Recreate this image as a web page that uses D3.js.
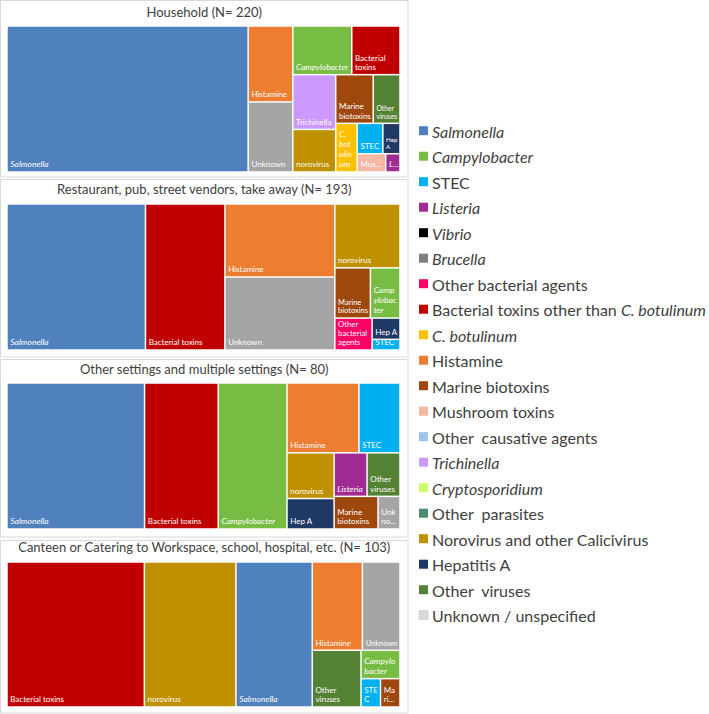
<!DOCTYPE html>
<html><head><meta charset="utf-8">
<script src="https://cdn.jsdelivr.net/npm/d3@7"></script>
<style>
body{margin:0;background:#fff}
svg{display:block}
text{font-family:Lato,"Open Sans",sans-serif}
</style>
</head><body>
<svg id="chart" width="709" height="714"></svg>
<script>
// ---------------- DATA ----------------
const panelTitles = [
  "Household (N= 220)",
  "Restaurant, pub, street vendors, take away  (N= 193)",
  "Other settings and multiple settings (N= 80)",
  "Canteen or Catering to Workspace, school, hospital, etc. (N= 103)"
];
const householdAgents = ["Salmonella","Histamine","Unknown","Campylobacter","Bacterial toxins","Trichinella","norovirus","Marine biotoxins","Other viruses","C. botulinum","STEC","Hep A","Mushroom toxins","Listeria"];
const householdCounts = [135,13,12,11,9,9,7,7,5,4,3,2,2,1];

const restaurantAgents = ["Salmonella","Bacterial toxins","Histamine","Unknown","norovirus","Marine biotoxins","Campylobacter","Other bacterial agents","Hep A","STEC"];
const restaurantCounts = [68,39,27,27,14,6,5,4,2,1];

const otherAgents = ["Salmonella","Bacterial toxins","Campylobacter","Histamine","STEC","norovirus","Hep A","Listeria","Other viruses","Marine biotoxins","Unknown"];
const otherCounts = [28,15,14,7,4,3,2,2,2,2,1];

const canteenAgents = ["Bacterial toxins","norovirus","Salmonella","Histamine","Unknown","Other viruses","Campylobacter","STEC","Marine biotoxins"];
const canteenCounts = [36,24,20,8,6,5,2,1,1];

const legendLabels = [
  [["Salmonella",1]],
  [["Campylobacter",1]],
  [["STEC",0]],
  [["Listeria",1]],
  [["Vibrio",1]],
  [["Brucella",1]],
  [["Other bacterial agents",0]],
  [["Bacterial toxins other than ",0],["C. botulinum",1]],
  [["C. botulinum",1]],
  [["Histamine",0]],
  [["Marine biotoxins",0]],
  [["Mushroom toxins",0]],
  [["Other  causative agents",0]],
  [["Trichinella",1]],
  [["Cryptosporidium",1]],
  [["Other  parasites",0]],
  [["Norovirus and other Calicivirus",0]],
  [["Hepatitis A",0]],
  [["Other  viruses",0]],
  [["Unknown / unspecified",0]]
];
const legendColors = ["#4f81bd","#77bd43","#00b0f0","#a02b93","#000000","#808080","#ff0066","#c00000","#ffc000","#ed7d31","#9e480e","#f4b8a4","#9dc3e6","#cc99ff","#ccff66","#4e8c6e","#bf9000","#203864","#548235","#d9d9d9"];

// ---------------- STYLE ----------------
const agentColor = {
  "Salmonella":"#4f81bd","Campylobacter":"#77bd43","STEC":"#00b0f0","Listeria":"#a02b93",
  "Other bacterial agents":"#ff0066","Bacterial toxins":"#c00000","C. botulinum":"#ffc000",
  "Histamine":"#ed7d31","Marine biotoxins":"#9e480e","Mushroom toxins":"#f4b8a4",
  "Trichinella":"#cc99ff","norovirus":"#bf9000","Hep A":"#203864","Other viruses":"#548235",
  "Unknown":"#a5a5a5"
};
const italicAgents = new Set(["Salmonella","Campylobacter","Listeria","C. botulinum"]);

const svg = d3.select("#chart");

const panels = [
  {title: panelTitles[0], agents: householdAgents, counts: householdCounts, box:[0.5,0.5,408,177], plot:[7,26,400,172], ty:14},
  {title: panelTitles[1], agents: restaurantAgents, counts: restaurantCounts, box:[0.5,179.5,408,357], plot:[7,204,400,350], ty:191},
  {title: panelTitles[2], agents: otherAgents, counts: otherCounts, box:[0.5,359.5,408,537], plot:[7,383,400,529], ty:371},
  {title: panelTitles[3], agents: canteenAgents, counts: canteenCounts, box:[0.5,540.5,408,713], plot:[7,562,400,707], ty:549}
];

// Squarified tiling (rows along the shorter side); aspect ratios judged
// with the vertical extent weighted by KC, like the spreadsheet's layout.
const KC = 0.8;
function squarifyWeighted(parent, x0, y0, x1, y1){
  const nodes = parent.children, n = nodes.length;
  let i0 = 0, value = parent.value;
  while (i0 < n){
    const dx = x1 - x0, dy = y1 - y0;
    const horiz = dx < dy;
    const DX = dx, DY = dy * KC;
    const worst = (i1) => {
      let s = 0; for (let i = i0; i < i1; i++) s += nodes[i].value;
      const T = horiz ? DY * s / value : DX * s / value;
      const side = horiz ? DX : DY;
      let w = 0;
      for (let i = i0; i < i1; i++){
        const L = side * nodes[i].value / s;
        const r = Math.max(T / L, L / T);
        if (r > w) w = r;
      }
      return [w, s];
    };
    let i1 = i0 + 1;
    let [best, sum] = worst(i1);
    while (i1 < n){
      const [w, s] = worst(i1 + 1);
      if (w > best) break;
      best = w; sum = s; i1++;
    }
    const row = {value: sum, children: nodes.slice(i0, i1)};
    if (horiz) d3.treemapDice(row, x0, y0, x1, value ? (y0 += dy * sum / value) : y1);
    else d3.treemapSlice(row, x0, y0, value ? (x0 += dx * sum / value) : x1, y1);
    value -= sum; i0 = i1;
  }
}

const FS_REG = 8, FS_IT = 8.5;
const meas = svg.append("text").attr("x",-1000).attr("y",-1000);
function tw(s, it, fs){ meas.attr("font-style", it?"italic":"normal").style("font-size",fs+"px").text(s); return meas.node().getComputedTextLength(); }

function wordWrap(label, maxW, it, fs){
  const words = label.split(" ");
  const lines = []; let cur = "";
  for (const w of words){
    if (tw(w,it,fs) > maxW) return null;
    const cand = cur ? cur + " " + w : w;
    if (tw(cand,it,fs) <= maxW) cur = cand;
    else { lines.push(cur); cur = w; }
  }
  if (cur) lines.push(cur);
  return lines;
}

function charWrap(label, maxW, maxLines, it, fs){
  const words = label.split(" ");
  let lines = [], cur = "";
  for (const w of words){
    const cand = cur ? cur + " " + w : w;
    if (tw(cand,it,fs) <= maxW){ cur = cand; continue; }
    if (cur){ lines.push(cur); cur = ""; }
    if (tw(w,it,fs) <= maxW){ cur = w; continue; }
    let part = "";
    for (const ch of w){
      if (!part || tw(part+ch,it,fs) <= maxW) part += ch;
      else { lines.push(part); part = ch; }
    }
    cur = part;
  }
  if (cur) lines.push(cur);
  if (lines.length > maxLines){
    const rest = lines.slice(maxLines-1).join("");
    lines = lines.slice(0, maxLines-1);
    let s = rest;
    while (s.length > 1 && tw(s+"...",it,fs) > maxW) s = s.slice(0,-1);
    lines.push(s+"...");
  }
  return lines;
}

function fitLabel(label, w, h, it){
  const base = it ? FS_IT : FS_REG;
  for (let fs = base; fs >= base*0.78; fs -= 0.25){
    const lines = wordWrap(label, w, it, fs);
    if (lines && lines.length * fs * 1.15 <= h) return {fs, lines, lh: fs*1.15};
  }
  const lh = base*1.2;
  return {fs: base, lh, lines: charWrap(label, w, Math.max(1, Math.floor(h/lh)), it, base)};
}

panels.forEach((p, pi) => {
  const g = svg.append("g");
  g.append("rect").attr("x",p.box[0]).attr("y",p.box[1])
    .attr("width",p.box[2]-p.box[0]).attr("height",p.box[3]-p.box[1])
    .attr("fill","#fff").attr("stroke","#d9d9d9").attr("stroke-width",1);
  g.append("text").attr("x",(p.box[0]+p.box[2])/2).attr("y",p.ty)
    .attr("text-anchor","middle").attr("dominant-baseline","middle")
    .style("font-size","13px").attr("fill","#404040").text(p.title);

  const [px0,py0,px1,py1] = p.plot;
  const data = p.agents.map((a,i)=>({name:a, value:p.counts[i]}));
  const root = d3.hierarchy({children:data}).sum(d=>d.value||0).sort((a,b)=>b.value-a.value);
  d3.treemap().size([px1-px0, py1-py0]).tile(squarifyWeighted)(root);
  const xs = d3.scaleLinear().domain([0,px1-px0]).range([px0,px1]);
  const ys = d3.scaleLinear().domain([0,py1-py0]).range([py0,py1]);

  root.leaves().forEach((lf, li) => {
    const x0 = xs(lf.x0)+0.75, x1 = xs(lf.x1)-0.75, y0 = ys(lf.y0)+0.75, y1 = ys(lf.y1)-0.75;
    const cid = "clip"+pi+"_"+li;
    g.append("clipPath").attr("id",cid).append("rect")
      .attr("x",x0).attr("y",y0).attr("width",Math.max(0,x1-x0)).attr("height",Math.max(0,y1-y0));
    g.append("rect").attr("x",x0).attr("y",y0)
      .attr("width",Math.max(0,x1-x0)).attr("height",Math.max(0,y1-y0))
      .attr("fill",agentColor[lf.data.name]);
    const it = italicAgents.has(lf.data.name);
    const f = fitLabel(lf.data.name, x1-x0-4, y1-y0-3, it);
    const t = g.append("text").attr("clip-path","url(#"+cid+")")
      .attr("fill","#fff").style("font-size",f.fs+"px").attr("font-style", it?"italic":"normal");
    f.lines.forEach((ln, k) => {
      t.append("tspan").attr("x", x0+2.5).attr("y", y1-4-(f.lines.length-1-k)*f.lh).text(ln);
    });
  });
});

// ---------------- LEGEND ----------------
const lg = svg.append("g");
legendLabels.forEach((parts, i) => {
  const cy = 130.7 + i*25.5;
  lg.append("rect").attr("x",419).attr("y",cy-4.5).attr("width",9).attr("height",9)
    .attr("fill",legendColors[i]).attr("stroke", i===19 ? "#bfbfbf" : "none").attr("stroke-width",0.5);
  const t = lg.append("text").attr("x",432).attr("y",cy).attr("dominant-baseline","central")
    .style("font-size","16px").attr("fill","#404040").attr("xml:space","preserve");
  parts.forEach(([s,it]) => t.append("tspan").attr("font-style", it?"italic":"normal").text(s));
});
meas.remove();
</script>
</body></html>
